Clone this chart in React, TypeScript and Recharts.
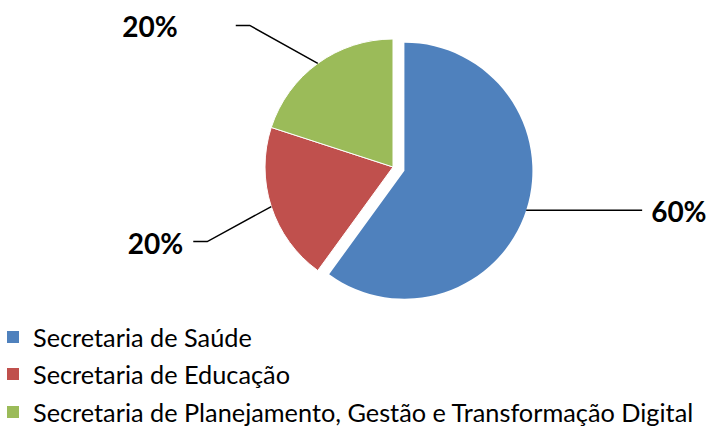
import React from "react";
import { PieChart, Pie, Cell, Legend } from "recharts";

const categories = [
  "Secretaria de Saúde",
  "Secretaria de Educação",
  "Secretaria de Planejamento, Gestão e Transformação Digital",
];
const values = [60, 20, 20];
const labels = ["60%", "20%", "20%"];
const colors = ["#4F81BD", "#C0504D", "#9BBB59"];

const data = categories.map((name, i) => ({ name, value: values[i], label: labels[i] }));

const CX = 393;
const CY = 167;
const R = 128;
const EXPLODE = 12;
const START = 90;
const END = -270;

const total = values.reduce((a, b) => a + b, 0);
const blueMid = START - (values[0] / total) * 360 / 2;
const RAD = Math.PI / 180;
const exDx = EXPLODE * Math.cos(blueMid * RAD);
const exDy = -EXPLODE * Math.sin(blueMid * RAD);

// leader-line style per slice: elbow offset, horizontal run, gap to text
const leader = [
  { ex: 116, ey: 0, run: 0, gap: 9, anchor: "start" },
  { ex: -64, ey: 35, run: -14, gap: 10, anchor: "end" },
  { ex: -68, ey: -38, run: -14, gap: 58, anchor: "end" },
];

const FONT = "Lato, 'Open Sans', sans-serif";

const renderLabel = (props: any) => {
  const { cx, cy, midAngle, outerRadius, index } = props;
  const ox = index === 0 ? exDx : 0;
  const oy = index === 0 ? exDy : 0;
  const ex = cx + ox + outerRadius * Math.cos(-midAngle * RAD);
  const ey = cy + oy + outerRadius * Math.sin(-midAngle * RAD);
  const L = leader[index];
  const bx = ex + L.ex;
  const by = ey + L.ey;
  const hx = bx + L.run;
  const dir = L.anchor === "start" ? 1 : -1;
  const tx = hx + dir * L.gap;
  return (
    <g key={"lbl" + index}>
      <polyline
        points={`${ex},${ey} ${bx},${by} ${hx},${by}`}
        fill="none"
        stroke="#000"
        strokeWidth={1.5}
      />
      <text
        x={tx}
        y={by + 1}
        textAnchor={L.anchor}
        dominantBaseline="central"
        fontFamily={FONT}
        fontWeight={700}
        fontSize={28}
        fill="#000"
      >
        {data[index].label}
      </text>
    </g>
  );
};

const renderLegend = () => (
  <div style={{ fontFamily: FONT }}>
    {data.map((d, i) => (
      <div
        key={d.name}
        style={{ display: "flex", alignItems: "center", height: 37.5 }}
      >
        <span
          style={{
            display: "inline-block",
            width: 12,
            height: 12,
            background: colors[i],
            marginLeft: 7,
            marginRight: 14,
          }}
        />
        <span style={{ fontSize: 25.3, color: "#000", whiteSpace: "nowrap" }}>{d.name}</span>
      </div>
    ))}
  </div>
);

export default function App() {
  return (
    <div style={{ position: "absolute", left: 0, top: 0, background: "#fff" }}>
      <PieChart width={710} height={426} margin={{ top: 0, right: 0, bottom: 0, left: 0 }}>
        <Pie
          data={data}
          dataKey="value"
          cx={CX}
          cy={CY}
          outerRadius={R}
          startAngle={START}
          endAngle={END}
          isAnimationActive={false}
          stroke="#fff"
          strokeWidth={1}
          label={renderLabel}
          labelLine={false}
        >
          {data.map((d, i) => (
            <Cell key={d.name} fill={i === 0 ? "none" : colors[i]} stroke={i === 0 ? "none" : "#fff"} />
          ))}
        </Pie>
        <Pie
          data={data}
          dataKey="value"
          cx={CX + exDx}
          cy={CY + exDy}
          outerRadius={R}
          startAngle={START}
          endAngle={END}
          isAnimationActive={false}
          stroke="none"
        >
          {data.map((d, i) => (
            <Cell key={d.name} fill={i === 0 ? colors[0] : "none"} />
          ))}
        </Pie>
        <Legend
          content={renderLegend}
          wrapperStyle={{ position: "absolute", left: 0, top: 318, width: 710 }}
        />
      </PieChart>
    </div>
  );
}
